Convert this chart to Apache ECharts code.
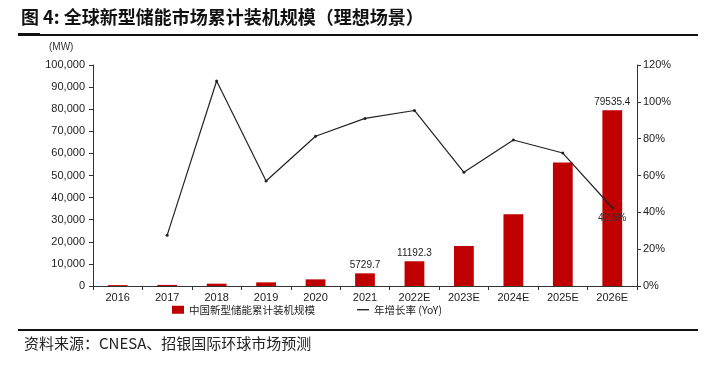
<!DOCTYPE html>
<html>
<head>
<meta charset="utf-8">
<script src="https://cdn.jsdelivr.net/npm/echarts@6/dist/echarts.min.js"></script>
<style>
html,body{margin:0;padding:0;background:#fff;}
#c{width:720px;height:365px;}
</style>
</head>
<body>
<div id="c"></div>
<script>
const categories = ['2016','2017','2018','2019','2020','2021','2022E','2023E','2024E','2025E','2026E'];
const capacity = [391, 499, 1054, 1655, 3000, 5729.7, 11192.3, 18100, 32450, 55900, 79535.4];
const yoy = [null, 27.6, 111.3, 57.0, 81.3, 91.0, 95.3, 61.7, 79.3, 72.2, 42.5];
const labeledBars = ['2021', '2022E', '2026E'];
const barName = '中国新型储能累计装机规模';
const lineName = '年增长率 (YoY)';
const titleText = '图 4: 全球新型储能市场累计装机规模（理想场景）';
const sourceText = '资料来源：CNESA、招银国际环球市场预测';

const numFont = 'Liberation Sans, Arial, sans-serif';
const cjkFont = '"Noto Sans CJK SC", sans-serif';

const chart = echarts.init(document.getElementById('c'), null, {renderer: 'canvas'});
chart.setOption({
  backgroundColor: '#fff',
  animation: false,
  grid: {left: 93, right: 83, top: 65, bottom: 79},
  graphic: [
    {type: 'text', left: 21, top: 8, style: {text: titleText, font: 'bold 18px ' + cjkFont, fill: '#111'}},
    {type: 'rect', shape: {x: 18, y: 34, width: 680, height: 2}, style: {fill: '#111'}},
    {type: 'rect', shape: {x: 18, y: 33, width: 22, height: 3}, style: {fill: '#111'}},
    {type: 'rect', shape: {x: 18, y: 329, width: 680, height: 2}, style: {fill: '#111'}},
    {type: 'text', left: 24, top: 336, style: {text: sourceText, font: '15px ' + cjkFont, fill: '#222'}},
    {type: 'text', left: 49, top: 42, style: {text: '(MW)', font: '10px ' + numFont, fill: '#333'}}
  ],
  legend: {
    bottom: 45, left: 167, itemGap: 42, itemWidth: 12, itemHeight: 8,
    textStyle: {fontSize: 10.5, color: '#222', fontFamily: cjkFont},
    data: [
      {name: barName, icon: 'rect'},
      {name: lineName, icon: 'path://M0,4L20,4L20,6L0,6Z', itemStyle: {color: '#000'}}
    ]
  },
  xAxis: {
    type: 'category', data: categories,
    axisLine: {lineStyle: {color: '#333', width: 1}},
    axisTick: {show: true, alignWithLabel: false, length: 4, lineStyle: {color: '#333'}},
    axisLabel: {color: '#222', fontSize: 11, fontFamily: numFont, margin: 6}
  },
  yAxis: [
    {
      type: 'value', min: 0, max: 100000, interval: 10000,
      axisLine: {show: true, lineStyle: {color: '#333'}},
      axisTick: {show: true, length: 4, lineStyle: {color: '#333'}},
      splitLine: {show: false},
      axisLabel: {color: '#222', fontSize: 11, fontFamily: numFont, margin: 8,
        formatter: v => v.toLocaleString('en-US')}
    },
    {
      type: 'value', min: 0, max: 120, interval: 20, position: 'right',
      axisLine: {show: true, lineStyle: {color: '#333'}},
      axisTick: {show: true, length: 4, lineStyle: {color: '#333'}},
      splitLine: {show: false},
      axisLabel: {color: '#222', fontSize: 11, fontFamily: numFont, margin: 6, formatter: '{value}%'}
    }
  ],
  series: [
    {
      name: barName, type: 'bar', yAxisIndex: 0, barWidth: '40%',
      itemStyle: {color: '#c00000'},
      data: capacity.map((v, i) => ({
        value: v,
        label: {show: labeledBars.includes(categories[i]), position: 'top', distance: 3,
          color: '#222', fontSize: 10, fontFamily: numFont, formatter: p => String(p.value)}
      }))
    },
    {
      name: lineName, type: 'line', yAxisIndex: 1,
      data: yoy.map((v, i) => ({
        value: v,
        label: {show: i === yoy.length - 1, position: 'bottom', distance: 4,
          color: '#333', fontSize: 10, fontFamily: numFont, formatter: p => p.value + '%'}
      })),
      symbol: 'circle', symbolSize: 3,
      lineStyle: {color: '#222', width: 1.2},
      itemStyle: {color: '#222'},
      z: 5
    }
  ]
});
</script>
</body>
</html>
